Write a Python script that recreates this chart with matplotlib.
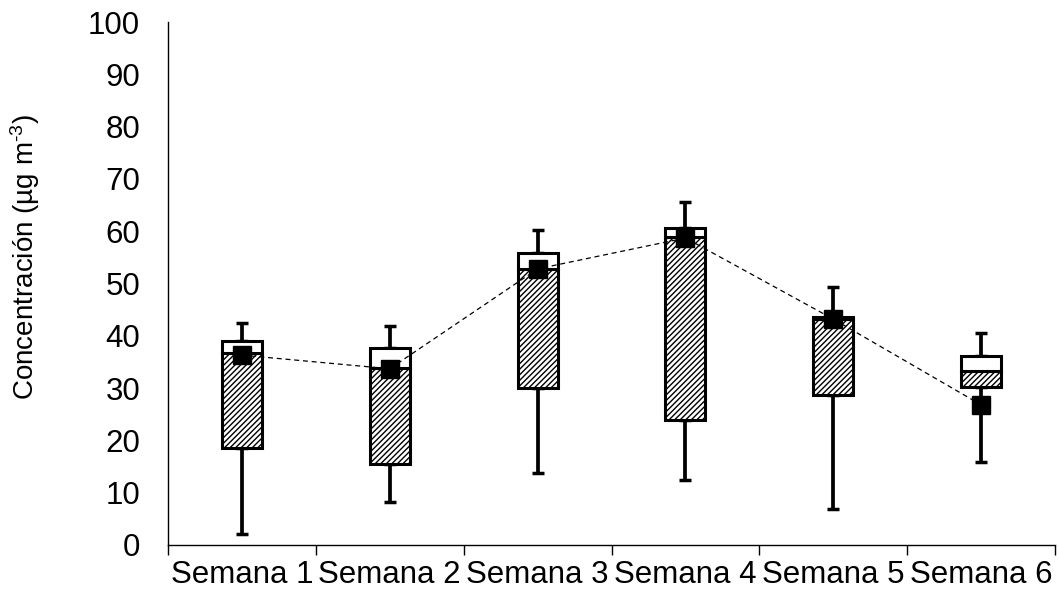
import numpy as np
import matplotlib.pyplot as plt

plt.rcParams['font.family'] = ['Liberation Sans', 'DejaVu Sans']
plt.rcParams['mathtext.fontset'] = 'custom'
plt.rcParams['mathtext.rm'] = 'Liberation Sans'
plt.rcParams['mathtext.it'] = 'Liberation Sans'
plt.rcParams['hatch.linewidth'] = 1.0

# -- data
semanas = ["Semana 1", "Semana 2", "Semana 3", "Semana 4", "Semana 5", "Semana 6"]
minimo  = [2.1, 8.2, 13.8, 12.4, 6.9, 15.9]
q1      = [18.5, 15.5, 30.0, 23.9, 28.7, 30.3]
mediana = [36.7, 33.8, 52.8, 58.9, 43.3, 33.3]
q3      = [39.0, 37.7, 55.8, 60.6, 43.6, 36.1]
maximo  = [42.4, 41.9, 60.2, 65.6, 49.3, 40.5]
media   = [36.3, 33.7, 52.8, 58.7, 43.2, 26.8]


# -- utilities
x   = np.arange(len(semanas)) + 0.5
wid = 0.27
fs  = 22.5
q1, mediana, q3 = np.array(q1), np.array(mediana), np.array(q3)
minimo, maximo  = np.array(minimo), np.array(maximo)


# -- figure
fig = plt.figure(figsize=(10.59, 5.89), dpi=100)
ax  = fig.add_axes([168/1059., 1-545/589., 887/1059., 523/589.])


# -- whiskers
ax.errorbar(x, q3, yerr=[np.zeros_like(q3), maximo-q3], fmt="none",
            ecolor="k", elinewidth=2.7, capsize=4.3, capthick=2.5, zorder=1)
ax.errorbar(x, q1, yerr=[q1-minimo, np.zeros_like(q1)], fmt="none",
            ecolor="k", elinewidth=2.7, capsize=4.3, capthick=2.5, zorder=1)


# -- boxes
ax.bar(x, mediana-q1, wid, bottom=q1, color="white", edgecolor="k",
       hatch="//////", linewidth=2.2, zorder=2)
ax.bar(x, q3-mediana, wid, bottom=mediana, color="white", edgecolor="k",
       linewidth=2.2, zorder=2)


# -- mean
ax.plot(x, media, color="k", ls=(0, (4, 3)), lw=0.9, zorder=3)
ax.plot(x, media, ls="none", marker="s", ms=13, mfc="k", mec="k", zorder=4)


# -- axes
ax.set_xlim(0, 6)
ax.set_ylim(0, 100)
ax.set_yticks(np.arange(0, 101, 10))
ax.set_xticks(np.arange(0, 7))
ax.set_xticklabels([])
ax.set_xticks(x, minor=True)
ax.set_xticklabels(semanas, minor=True)
ax.tick_params(axis="x", which="major", length=7, width=1, direction="out")
ax.tick_params(axis="x", which="minor", length=0, pad=11, labelsize=fs)
ax.tick_params(axis="y", length=0, pad=20, labelsize=fs)
for s in ["top", "right"]:
    ax.spines[s].set_visible(False)
for s in ["left", "bottom"]:
    ax.spines[s].set_linewidth(1.0)
    ax.spines[s].set_color("k")

fig.text(25/1059., 1-257/589., r"Concentración (µg m$^{\text{-3}}$)", fontsize=20,
         rotation=90, ha="center", va="center")

fig.savefig("out.png", dpi=100)
